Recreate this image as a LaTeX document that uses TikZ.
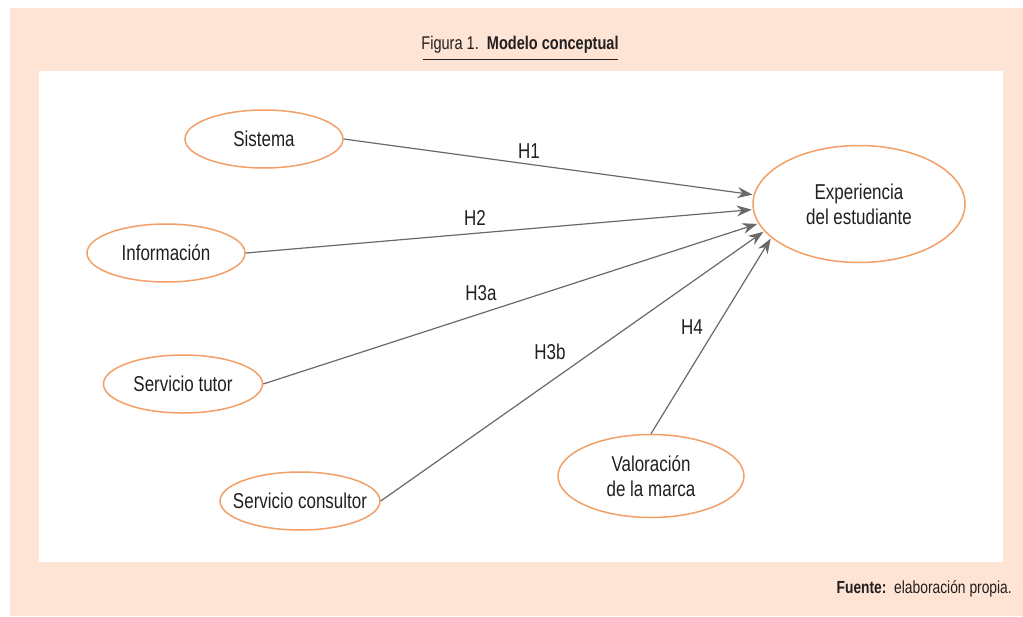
\documentclass[tikz,border=0pt]{standalone}
\usepackage{fontspec}
\setmainfont{Liberation Sans}[FakeStretch=0.79]
\usetikzlibrary{shapes.geometric,arrows.meta}
\definecolor{peach}{RGB}{253,228,212}
\definecolor{ellorange}{RGB}{242,160,104}
\definecolor{arrgray}{RGB}{105,105,108}
\definecolor{txtgray}{RGB}{35,31,32}
\begin{document}
\begin{tikzpicture}[x=1pt,y=-1pt,
  var/.style={ellipse,draw=ellorange,line width=1.5pt,fill=white,inner sep=0pt},
  vtext/.style={font=\fontsize{21.5}{25}\selectfont,text=txtgray,align=center,inner sep=0pt},
  hyp/.style={draw=arrgray,line width=1.2pt,-{Stealth[length=15pt,width=11pt]},shorten >=1pt},
  hlab/.style={font=\fontsize{21.5}{24}\selectfont,text=txtgray,inner sep=0pt}]
\useasboundingbox (0,0) rectangle (1023,616);
\fill[peach] (10,8) rectangle (1023,616);
\fill[white] (39,71) rectangle (1003,562);
% title
\node[font=\fontsize{18.4}{20}\selectfont,text=txtgray,inner sep=0pt] (title) at (520,45)
  {Figura 1.\ \ \textbf{Modelo conceptual}};
\draw[txtgray,line width=0.9pt] (423,59) -- (618,59);
% nodes
\node[var,minimum width=158pt,minimum height=58pt,label={[vtext]center:Sistema}] (sis) at (264,139) {};
\node[var,minimum width=158pt,minimum height=58pt,label={[vtext]center:Información}] (inf) at (166,253) {};
\node[var,minimum width=159pt,minimum height=58pt,label={[vtext]center:Servicio tutor}] (tut) at (183,384) {};
\node[var,minimum width=160pt,minimum height=58pt,label={[vtext]center:Servicio consultor}] (con) at (300,501) {};
\node[var,minimum width=186pt,minimum height=83pt,label={[vtext]center:Valoración\\de la marca}] (val) at (651,476) {};
\node[var,minimum width=212pt,minimum height=117pt,label={[vtext]center:Experiencia\\del estudiante}] (exp) at (859,204) {};
% connectors
\draw[hyp] (sis.east) -- (exp.175.5);
\draw[hyp] (inf.east) -- (exp.183);
\draw[hyp] (tut.east) -- (exp.191);
\draw[hyp] (con.east) -- (exp.196.5);
\draw[hyp] (val.north) -- (exp.201);
% labels
\node[hlab] (h1) at (529,151) {H1};
\node[hlab] (h2) at (475,218) {H2};
\node[hlab] (h3a) at (481,293) {H3a};
\node[hlab] (h3b) at (550,352) {H3b};
\node[hlab] (h4) at (692,327) {H4};
% footer
\node[font=\fontsize{17.5}{19}\selectfont,text=txtgray,anchor=east,inner sep=0pt] (fuente) at (1012,589)
  {\textbf{Fuente:}\ \ elaboración propia.};
\end{tikzpicture}
\end{document}
